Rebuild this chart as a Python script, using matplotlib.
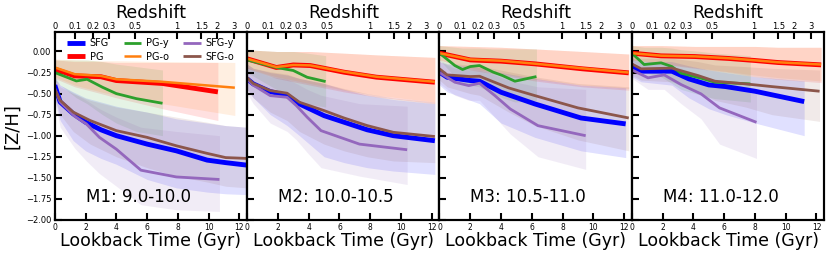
import numpy as np
import matplotlib
matplotlib.use("Agg")
import matplotlib.pyplot as plt


# =========================
# Data
# =========================
# time in Gyr (lookback), metallicity [Z/H], band lo/hi

# ---- M1: 9.0-10.0
m1_sfg_t = [0.0, 0.35, 1.2, 2.0, 3.0, 4.0, 6.0, 7.9, 9.9, 11.1, 12.5]
m1_sfg_z = [-0.40, -0.60, -0.74, -0.84, -0.93, -1.00, -1.10, -1.18, -1.29, -1.32, -1.35]
m1_sfg_hi = [-0.30, -0.40, -0.48, -0.55, -0.60, -0.65, -0.72, -0.80, -0.85, -0.88, -0.90]
m1_sfg_lo = [-0.55, -0.82, -1.06, -1.18, -1.27, -1.34, -1.52, -1.62, -1.67, -1.69, -1.70]

m1_pg_t = [0.0, 1.3, 3.0, 4.0, 7.0, 10.6]
m1_pg_z = [-0.21, -0.29, -0.30, -0.345, -0.38, -0.48]
m1_pg_hi = [-0.10, -0.12, -0.12, -0.13, -0.13, -0.13]
m1_pg_lo = [-0.32, -0.42, -0.50, -0.55, -0.68, -0.82]

m1_pgy_t = [0.0, 1.4, 2.1, 3.1, 4.0, 5.3, 7.0]
m1_pgy_z = [-0.25, -0.35, -0.33, -0.425, -0.50, -0.56, -0.615]
m1_pgy_hi = [-0.10, -0.10, -0.10, -0.12, -0.15, -0.18, -0.22]
m1_pgy_lo = [-0.35, -0.55, -0.62, -0.75, -0.85, -0.95, -1.00]

m1_pgo_t = [0.0, 1.3, 3.0, 4.0, 7.0, 11.7]
m1_pgo_z = [-0.19, -0.27, -0.29, -0.33, -0.36, -0.43]
m1_pgo_hi = [-0.09, -0.10, -0.11, -0.11, -0.12, -0.13]
m1_pgo_lo = [-0.30, -0.40, -0.48, -0.52, -0.62, -0.76]

m1_sfgy_t = [0.0, 0.35, 1.3, 2.05, 2.9, 4.0, 5.6, 7.9, 10.7]
m1_sfgy_z = [-0.44, -0.60, -0.77, -0.86, -1.02, -1.16, -1.41, -1.49, -1.52]
m1_sfgy_hi = [-0.33, -0.40, -0.50, -0.58, -0.68, -0.78, -0.90, -0.95, -1.00]
m1_sfgy_lo = [-0.60, -0.90, -1.15, -1.30, -1.45, -1.60, -1.82, -1.88, -1.90]

m1_sfgo_t = [0.0, 0.35, 1.2, 2.3, 4.0, 6.0, 7.9, 9.9, 11.1, 12.5]
m1_sfgo_z = [-0.45, -0.58, -0.72, -0.82, -0.94, -1.02, -1.12, -1.21, -1.26, -1.27]
m1_sfgo_hi = [-0.32, -0.42, -0.50, -0.58, -0.66, -0.72, -0.78, -0.84, -0.88, -0.90]
m1_sfgo_lo = [-0.55, -0.75, -0.95, -1.10, -1.25, -1.38, -1.48, -1.55, -1.60, -1.62]

# ---- M2: 10.0-10.5
m2_sfg_t = [0.0, 0.4, 1.5, 2.6, 3.4, 5.0, 6.3, 7.8, 9.5, 12.2]
m2_sfg_z = [-0.325, -0.385, -0.476, -0.524, -0.623, -0.762, -0.84, -0.93, -1.00, -1.06]
m2_sfg_hi = [-0.15, -0.20, -0.25, -0.28, -0.32, -0.38, -0.45, -0.52, -0.57, -0.62]
m2_sfg_lo = [-0.45, -0.55, -0.75, -0.88, -1.00, -1.25, -1.32, -1.38, -1.42, -1.46]

m2_pg_t = [0.0, 1.9, 3.0, 4.1, 6.3, 8.4, 12.2]
m2_pg_z = [-0.087, -0.19, -0.16, -0.167, -0.246, -0.305, -0.365]
m2_pg_hi = [0.02, 0.0, 0.0, 0.0, -0.02, -0.04, -0.07]
m2_pg_lo = [-0.20, -0.32, -0.36, -0.40, -0.48, -0.54, -0.62]

m2_pgy_t = [0.0, 1.9, 3.0, 3.9, 5.1]
m2_pgy_z = [-0.10, -0.19, -0.226, -0.306, -0.357]
m2_pgy_hi = [0.02, 0.0, 0.0, -0.02, -0.05]
m2_pgy_lo = [-0.25, -0.45, -0.55, -0.62, -0.66]

m2_pgo_t = [0.0, 1.9, 3.0, 4.1, 6.3, 8.4, 12.2]
m2_pgo_z = [-0.085, -0.185, -0.16, -0.165, -0.24, -0.30, -0.36]
m2_pgo_hi = [0.02, 0.0, 0.0, 0.0, -0.02, -0.04, -0.07]
m2_pgo_lo = [-0.20, -0.30, -0.34, -0.38, -0.46, -0.52, -0.60]

m2_sfgy_t = [0.0, 0.4, 1.5, 2.6, 3.2, 3.9, 4.8, 7.3, 10.4]
m2_sfgy_z = [-0.33, -0.40, -0.524, -0.544, -0.643, -0.78, -0.94, -1.10, -1.167]
m2_sfgy_hi = [-0.18, -0.22, -0.30, -0.33, -0.38, -0.45, -0.52, -0.62, -0.65]
m2_sfgy_lo = [-0.50, -0.62, -0.85, -0.95, -1.05, -1.20, -1.38, -1.48, -1.58]

m2_sfgo_t = [0.0, 0.4, 1.5, 2.6, 3.4, 5.0, 6.3, 7.8, 9.5, 12.2]
m2_sfgo_z = [-0.31, -0.38, -0.464, -0.496, -0.603, -0.702, -0.79, -0.88, -0.96, -1.01]
m2_sfgo_hi = [-0.15, -0.20, -0.24, -0.27, -0.32, -0.38, -0.44, -0.50, -0.55, -0.60]
m2_sfgo_lo = [-0.45, -0.55, -0.72, -0.82, -0.95, -1.10, -1.18, -1.25, -1.30, -1.32]

# ---- M3: 10.5-11.0
m3_sfg_t = [0.0, 0.5, 2.0, 2.6, 4.0, 6.2, 9.2, 12.1]
m3_sfg_z = [-0.246, -0.306, -0.345, -0.353, -0.484, -0.623, -0.79, -0.86]
m3_sfg_hi = [-0.12, -0.15, -0.18, -0.19, -0.25, -0.32, -0.40, -0.43]
m3_sfg_lo = [-0.40, -0.48, -0.58, -0.62, -0.85, -1.02, -1.18, -1.26]

m3_pg_t = [0.0, 2.0, 4.0, 6.2, 9.3, 12.3]
m3_pg_z = [-0.02, -0.10, -0.115, -0.147, -0.206, -0.254]
m3_pg_hi = [0.07, 0.06, 0.05, 0.03, 0.0, -0.03]
m3_pg_lo = [-0.10, -0.22, -0.28, -0.35, -0.42, -0.46]

m3_pgy_t = [0.0, 1.0, 1.5, 2.0, 2.6, 3.5, 4.1, 4.9, 6.3]
m3_pgy_z = [-0.02, -0.167, -0.214, -0.179, -0.167, -0.246, -0.286, -0.353, -0.298]
m3_pgy_hi = [0.07, 0.05, 0.04, 0.04, 0.04, 0.03, 0.03, 0.03, 0.03]
m3_pgy_lo = [-0.10, -0.30, -0.38, -0.40, -0.42, -0.50, -0.55, -0.60, -0.58]

m3_pgo_t = [0.0, 2.0, 4.0, 6.2, 9.3, 12.3]
m3_pgo_z = [-0.02, -0.095, -0.11, -0.145, -0.20, -0.25]
m3_pgo_hi = [0.07, 0.06, 0.05, 0.03, 0.0, -0.03]
m3_pgo_lo = [-0.10, -0.20, -0.26, -0.33, -0.40, -0.44]

m3_sfgy_t = [0.0, 1.0, 1.9, 2.6, 3.6, 4.6, 6.4, 9.5]
m3_sfgy_z = [-0.25, -0.365, -0.405, -0.377, -0.524, -0.683, -0.881, -1.00]
m3_sfgy_hi = [-0.12, -0.20, -0.22, -0.22, -0.28, -0.35, -0.42, -0.45]
m3_sfgy_lo = [-0.38, -0.52, -0.58, -0.58, -0.78, -0.98, -1.25, -1.40]

m3_sfgo_t = [0.0, 0.5, 2.0, 2.6, 4.5, 6.2, 9.0, 12.3]
m3_sfgo_z = [-0.206, -0.278, -0.298, -0.294, -0.433, -0.524, -0.67, -0.79]
m3_sfgo_hi = [-0.10, -0.14, -0.16, -0.17, -0.24, -0.30, -0.38, -0.42]
m3_sfgo_lo = [-0.34, -0.42, -0.50, -0.52, -0.72, -0.88, -1.05, -1.18]

# ---- M4: 11.0-12.0
m4_sfg_t = [0.0, 0.6, 2.6, 3.7, 5.0, 6.1, 8.0, 11.2]
m4_sfg_z = [-0.179, -0.234, -0.234, -0.325, -0.397, -0.417, -0.472, -0.595]
m4_sfg_hi = [-0.08, -0.12, -0.12, -0.17, -0.22, -0.25, -0.30, -0.35]
m4_sfg_lo = [-0.30, -0.36, -0.40, -0.55, -0.68, -0.75, -0.85, -1.00]

m4_pg_t = [0.0, 1.9, 4.1, 6.3, 8.0, 9.5, 12.3]
m4_pg_z = [-0.02, -0.052, -0.06, -0.083, -0.107, -0.131, -0.159]
m4_pg_hi = [0.07, 0.07, 0.06, 0.06, 0.06, 0.05, 0.05]
m4_pg_lo = [-0.10, -0.15, -0.20, -0.25, -0.30, -0.33, -0.37]

m4_pgy_t = [0.0, 0.8, 1.9, 2.6, 3.2, 4.5, 5.4, 7.7]
m4_pgy_z = [-0.02, -0.155, -0.135, -0.179, -0.258, -0.317, -0.365, -0.385]
m4_pgy_hi = [0.07, 0.05, 0.05, 0.04, 0.02, 0.0, -0.02, -0.05]
m4_pgy_lo = [-0.10, -0.25, -0.30, -0.38, -0.45, -0.52, -0.56, -0.60]

m4_pgo_t = [0.0, 1.9, 4.1, 6.3, 8.0, 9.5, 12.3]
m4_pgo_z = [-0.02, -0.05, -0.058, -0.08, -0.105, -0.128, -0.155]
m4_pgo_hi = [0.07, 0.07, 0.06, 0.06, 0.06, 0.05, 0.05]
m4_pgo_lo = [-0.10, -0.14, -0.19, -0.24, -0.28, -0.31, -0.35]

m4_sfgy_t = [0.0, 1.05, 2.1, 3.2, 4.5, 5.7, 8.1]
m4_sfgy_z = [-0.218, -0.313, -0.278, -0.393, -0.504, -0.67, -0.841]
m4_sfgy_hi = [-0.10, -0.15, -0.14, -0.20, -0.28, -0.36, -0.45]
m4_sfgy_lo = [-0.32, -0.45, -0.45, -0.62, -0.80, -1.10, -1.27]

m4_sfgo_t = [0.0, 0.6, 2.6, 4.3, 5.4, 7.4, 9.1, 12.2]
m4_sfgo_z = [-0.147, -0.206, -0.198, -0.286, -0.353, -0.385, -0.417, -0.472]
m4_sfgo_hi = [-0.05, -0.08, -0.08, -0.12, -0.16, -0.18, -0.20, -0.22]
m4_sfgo_lo = [-0.28, -0.34, -0.36, -0.48, -0.58, -0.66, -0.75, -0.83]

panel_titles = ["M1: 9.0-10.0", "M2: 10.0-10.5", "M3: 10.5-11.0", "M4: 11.0-12.0"]
redshift_ticks = [0, 0.1, 0.2, 0.3, 0.5, 1, 1.5, 2, 3]
redshift_labels = ["0", "0.1", "0.2", "0.3", "0.5", "1", "1.5", "2", "3"]
lookback_ticks = [0, 2, 4, 6, 8, 10, 12]

# series style: label -> (color, linewidth)
series_style = {
    "SFG": ("#0000ff", 3.5),
    "PG": ("#ff0000", 3.5),
    "PG-y": ("#2ca02c", 2.0),
    "PG-o": ("#ff7f0e", 1.8),
    "SFG-y": ("#9467bd", 2.0),
    "SFG-o": ("#8c564b", 2.0),
}


# =========================
# Helpers
# =========================
def lookback_time(z, h0=67.7, om=0.31):
    # flat LCDM, Gyr
    if z <= 0:
        return 0.0
    zz = np.linspace(0, z, 2000)
    ez = np.sqrt(om * (1 + zz) ** 3 + (1 - om))
    integ = 1.0 / ((1 + zz) * ez)
    return float(977.8 / h0 * np.trapezoid(integ, zz))


def get_panel(prefix):
    g = globals()
    out = {}
    for label, key in [("SFG", "sfg"), ("PG", "pg"), ("PG-y", "pgy"),
                       ("PG-o", "pgo"), ("SFG-y", "sfgy"), ("SFG-o", "sfgo")]:
        out[label] = (g[f"{prefix}_{key}_t"], g[f"{prefix}_{key}_z"],
                      g[f"{prefix}_{key}_lo"], g[f"{prefix}_{key}_hi"])
    return out


# =========================
# Plot
# =========================
fig, axes = plt.subplots(1, 4, figsize=(8.30, 2.59), dpi=100, sharey=True)
fig.subplots_adjust(left=0.066, right=0.993, top=0.876, bottom=0.151, wspace=0.0)

z_pos = [lookback_time(z) for z in redshift_ticks]

for i, ax in enumerate(axes):
    data = get_panel(f"m{i + 1}")

    # bands first
    for label, (t, z, lo, hi) in data.items():
        color, _ = series_style[label]
        ax.fill_between(t, lo, hi, color=color, alpha=0.12, linewidth=0)

    for label, (t, z, lo, hi) in data.items():
        color, lw = series_style[label]
        ax.plot(t, z, color=color, lw=lw, label=label, solid_capstyle="butt")

    ax.set_xlim(0, 12.5)
    ax.set_ylim(-2.0, 0.23)
    ax.set_xticks(lookback_ticks)
    ax.set_yticks(np.arange(-2.0, 0.01, 0.25))
    ax.tick_params(direction="in", length=5, width=1.5,
                   top=False, right=False, pad=2.5)
    ax.tick_params(axis="x", labelsize=5.5)
    ax.tick_params(axis="y", labelsize=6)
    for sp in ax.spines.values():
        sp.set_linewidth(1.5)
    ax.set_xlabel("Lookback Time (Gyr)", fontsize=12.5, labelpad=0)
    ax.text(0.16, 0.12, panel_titles[i], transform=ax.transAxes,
            fontsize=12, ha="left", va="center")

    top = ax.twiny()
    top.set_xlim(ax.get_xlim())
    top.set_xticks(z_pos)
    top.set_xticklabels(redshift_labels)
    top.tick_params(direction="in", length=5, width=1.5, labelsize=6, pad=1)
    top.set_xlabel("Redshift", fontsize=12.5, labelpad=2.5)
    for sp in top.spines.values():
        sp.set_linewidth(1.5)

axes[0].set_ylabel("[Z/H]", fontsize=13, labelpad=3)
axes[0].legend(loc="upper left", bbox_to_anchor=(0.035, 1.0), ncol=3,
               frameon=False, fontsize=7, handlelength=1.8,
               columnspacing=1.5, labelspacing=0.4, handletextpad=0.5,
               borderpad=0.3, borderaxespad=0.3)

plt.savefig("out.png", dpi=100)
plt.close()
